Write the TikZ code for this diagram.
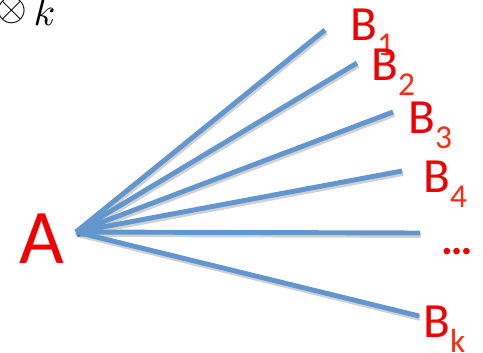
\documentclass[tikz,border=0pt]{standalone}
\usepackage{graphicx}
\usepackage{fontspec}
\setmainfont{Carlito}
\usepackage{xcolor}
\definecolor{rayblue}{HTML}{6196CF}
\definecolor{labelred}{HTML}{F00000}
\definecolor{subred}{HTML}{FF2A10}
\newcommand{\bsub}[1]{\raisebox{-0.32em}{\fontsize{19pt}{19pt}\selectfont\textcolor{subred}{#1}}}

\begin{document}
\begin{tikzpicture}[
    x=0.02cm, y=-0.02cm,
    ray/.style={line width=2.8pt, color=rayblue,
                preaction={draw=black, opacity=0.18, line width=3.2pt,
                           transform canvas={shift={(0.6pt,-1.2pt)}}}},
    leaf/.style={anchor=base west, inner sep=0pt, color=labelred,
                 font=\fontsize{28pt}{28pt}\selectfont},
]
\useasboundingbox (0,0) rectangle (483,352);

% Title fragment
\node[anchor=base west, inner sep=0pt] (tensor) at (-4,25)
    {\scalebox{2.25}{\raisebox{1.2pt}{$\otimes$}$\,k$}};

% ---- Root ----
\node[anchor=base west, inner sep=0pt, color=labelred,
      font=\fontsize{44pt}{44pt}\selectfont] (A) at (19,263) {A};
\coordinate (hub) at (76,232);

% ---- Leaf labels ----
\node[leaf] (b1) at (350,40)  {B\bsub{1}};
\node[leaf] (b2) at (371,80)  {B\bsub{2}};
\node[leaf] (b3) at (408,133) {B\bsub{3}};
\node[leaf] (b4) at (423,192) {B\bsub{4}};
\node[leaf] (bdots) at (441,254) {\fontsize{25pt}{25pt}\selectfont\textbf{\dots}};
\node[leaf] (bk) at (423,337) {B\bsub{k}};

% ---- Ray ends ----
\coordinate (e1) at (325,30);
\coordinate (e2) at (357,63);
\coordinate (e3) at (393,112);
\coordinate (e4) at (402,171);
\coordinate (e5) at (420,233);
\coordinate (ek) at (419,316);

% ---- Rays ----
\draw[ray] (hub) -- (e1);
\draw[ray] (hub) -- (e2);
\draw[ray] (hub) -- (e3);
\draw[ray] (hub) -- (e4);
\draw[ray] (hub) -- (e5);
\draw[ray] (hub) -- (ek);
\end{tikzpicture}
\end{document}
